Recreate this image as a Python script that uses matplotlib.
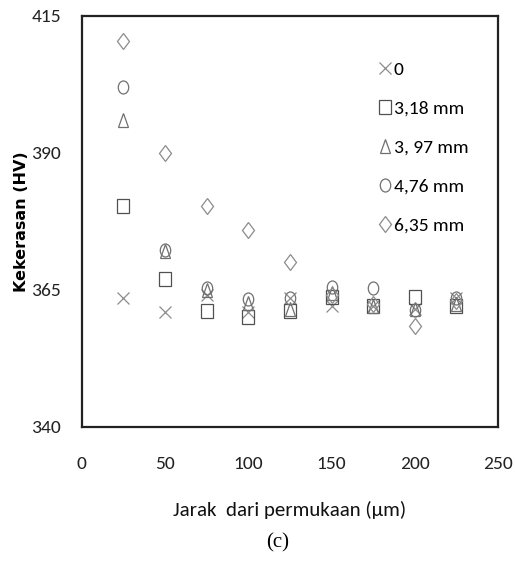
import matplotlib.pyplot as plt
from matplotlib import font_manager
from matplotlib.markers import MarkerStyle
from matplotlib.transforms import Affine2D

names = {f.name for f in font_manager.fontManager.ttflist}
narrow = 'DejaVu Sans'
for cand in ['Carlito', 'Liberation Sans Narrow', 'Roboto Condensed', 'Open Sans Condensed', 'Lato']:
    if cand in names:
        narrow = cand
        break
plt.rcParams['font.family'] = [narrow, 'DejaVu Sans']

jarak = [25, 50, 75, 100, 125, 150, 175, 200, 225]
labels = ['0', '3,18 mm', '3, 97 mm', '4,76 mm', '6,35 mm']
hv_0 = [363.5, 361.0, 364.0, 361.0, 363.5, 362.0, 362.0, 361.5, 363.5]
hv_318 = [380.3, 367.0, 361.2, 360.0, 361.2, 363.7, 362.0, 363.7, 362.0]
hv_397 = [396.0, 372.0, 365.0, 362.6, 361.5, 364.5, 362.0, 361.5, 362.5]
hv_476 = [402.0, 372.3, 365.4, 363.4, 363.5, 365.5, 365.4, 361.3, 363.5]
hv_635 = [410.3, 390.0, 380.3, 376.0, 370.0, 364.0, 362.5, 358.4, 363.0]

series = [hv_0, hv_318, hv_397, hv_476, hv_635]
stretch = Affine2D().scale(1.0, 1.25)
markers = [MarkerStyle('x'), MarkerStyle('s', transform=stretch),
           MarkerStyle('^', transform=stretch), MarkerStyle('o', transform=stretch),
           MarkerStyle('D', transform=Affine2D().scale(0.8, 1.0))]
sizes = [8.5, 8, 7.5, 7.5, 8]
colors = ['#8c8c8c', '#505050', '#707070', '#707070', '#8c8c8c']

fig = plt.figure(figsize=(5.15, 5.61), dpi=100)
ax = fig.add_axes([0.159, 0.239, 0.808, 0.733])

for vals, m, s, c, lab in zip(series, markers, sizes, colors, labels):
    ax.plot(jarak, vals, linestyle='none', marker=m, markersize=s,
            markerfacecolor='none', markeredgecolor=c, markeredgewidth=0.9,
            label=lab)

ax.set_xlim(0, 250)
ax.set_ylim(340, 415)
ax.set_xticks([0, 50, 100, 150, 200, 250])
ax.set_yticks([340, 365, 390, 415])
ax.tick_params(length=0, labelsize=14, colors='#222222')
ax.tick_params(axis='x', pad=21)
ax.tick_params(axis='y', pad=15)
for sp in ax.spines.values():
    sp.set_linewidth(1.6)
    sp.set_color('#222222')

ax.set_ylabel('Kekerasan (HV)', fontsize=11.5, fontweight='bold',
              family='DejaVu Sans')
ax.yaxis.set_label_coords(-0.144, 0.5)
ax.set_xlabel('Jarak  dari permukaan (\u00b5m)', fontsize=15, color='#111111')
ax.xaxis.set_label_coords(0.5, -0.202)
ax.xaxis.label.set_va('center')
ax.yaxis.label.set_va('center')

leg = ax.legend(loc='upper left', bbox_to_anchor=(0.698, 0.908), frameon=False,
                fontsize=14, handlelength=0.5, handletextpad=0.2,
                labelspacing=1.15, borderaxespad=0)

fig.text(0.54, 0.032, '(c)', fontsize=15, family='Liberation Serif',
         ha='center', va='center')

fig.savefig('out.png', dpi=100)
